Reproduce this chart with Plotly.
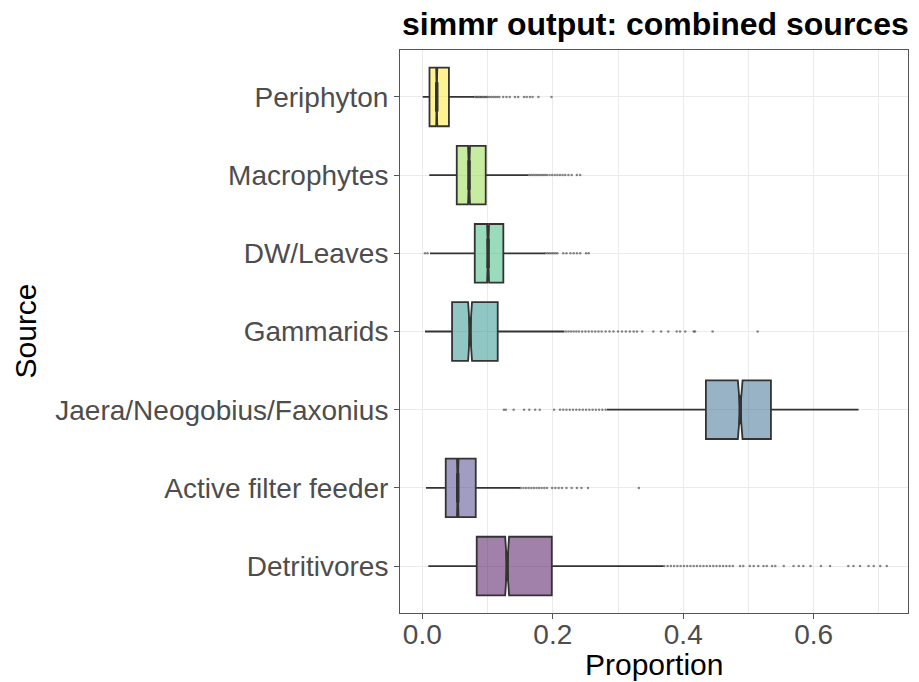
import plotly.graph_objects as go

sources = ["Periphyton", "Macrophytes", "DW/Leaves", "Gammarids",
           "Jaera/Neogobius/Faxonius", "Active filter feeder", "Detritivores"]

lower_whisker = [0.0006, 0.0107, 0.0118, 0.0041, 0.2830, 0.0057, 0.0092]
q1_vals       = [0.0110, 0.0528, 0.0804, 0.0456, 0.4347, 0.0359, 0.0834]
median_vals   = [0.0221, 0.0716, 0.1008, 0.0732, 0.4873, 0.0543, 0.1300]
q3_vals       = [0.0408, 0.0972, 0.1242, 0.1156, 0.5344, 0.0819, 0.1985]
upper_whisker = [0.0793, 0.1626, 0.1880, 0.2178, 0.6687, 0.1498, 0.3696]
notch_half    = [0.0008, 0.0015, 0.0015, 0.0030, 0.0036, 0.0012, 0.0030]

colors = ["#FDE725", "#8FD744", "#35B779", "#21908C", "#31688E", "#443A83", "#440154"]

outliers_periphyton = [0.080, 0.082, 0.084, 0.086, 0.088, 0.090, 0.092, 0.094, 0.096, 0.098,
                       0.100, 0.103, 0.106, 0.109, 0.112, 0.115, 0.118, 0.124, 0.129, 0.134,
                       0.142, 0.147, 0.156, 0.160, 0.165, 0.169, 0.178, 0.198]
outliers_macrophytes = [0.164, 0.167, 0.170, 0.173, 0.176, 0.179, 0.182, 0.185, 0.188, 0.191,
                        0.195, 0.199, 0.203, 0.207, 0.211, 0.215, 0.219, 0.224, 0.229, 0.237, 0.242]
outliers_dwleaves = [0.004, 0.008, 0.189, 0.192, 0.195, 0.198, 0.201, 0.204, 0.207, 0.216,
                     0.221, 0.227, 0.232, 0.237, 0.242, 0.251, 0.255]
outliers_gammarids = [0.220, 0.224, 0.228, 0.232, 0.236, 0.240, 0.245, 0.250, 0.255, 0.260,
                      0.265, 0.270, 0.275, 0.281, 0.287, 0.293, 0.300, 0.306, 0.312, 0.318,
                      0.324, 0.329, 0.337, 0.354, 0.366, 0.377, 0.390, 0.395, 0.403, 0.416,
                      0.418, 0.445, 0.514]
outliers_jaera = [0.125, 0.128, 0.140, 0.156, 0.164, 0.173, 0.180, 0.202, 0.211, 0.216,
                  0.221, 0.226, 0.231, 0.236, 0.241, 0.246, 0.251, 0.256, 0.261, 0.266,
                  0.271, 0.276, 0.281]
outliers_active = [0.151, 0.155, 0.159, 0.163, 0.167, 0.171, 0.175, 0.179, 0.183, 0.187,
                   0.191, 0.199, 0.204, 0.209, 0.214, 0.221, 0.229, 0.237, 0.244, 0.254, 0.332]
outliers_detritivores = [0.371, 0.376, 0.381, 0.386, 0.391, 0.396, 0.401, 0.406, 0.411, 0.416,
                         0.421, 0.426, 0.431, 0.436, 0.441, 0.446, 0.451, 0.456, 0.461, 0.466,
                         0.471, 0.476, 0.487, 0.492, 0.502, 0.508, 0.515, 0.523, 0.528, 0.536,
                         0.541, 0.554, 0.569, 0.577, 0.584, 0.595, 0.611, 0.625, 0.653, 0.661,
                         0.671, 0.684, 0.692, 0.702, 0.712]

outlier_lists = [outliers_periphyton, outliers_macrophytes, outliers_dwleaves, outliers_gammarids,
                 outliers_jaera, outliers_active, outliers_detritivores]

def hex_to_rgba(h, a):
    h = h.lstrip("#")
    return "rgba(%d,%d,%d,%s)" % (int(h[0:2], 16), int(h[2:4], 16), int(h[4:6], 16), a)

fig = go.Figure()
BOX_W = 0.75
for i, s in enumerate(sources):
    fig.add_trace(go.Box(
        y=[s], q1=[q1_vals[i]], median=[median_vals[i]], q3=[q3_vals[i]],
        lowerfence=[lower_whisker[i]], upperfence=[upper_whisker[i]],
        notchspan=[notch_half[i]], notched=True, notchwidth=0.5,
        orientation="h", fillcolor=hex_to_rgba(colors[i], 0.5),
        line=dict(color="#333333", width=1.8), whiskerwidth=0, width=BOX_W,
        boxpoints=False, showlegend=False, hoverinfo="x+y"))

ox, oy = [], []
for s, lst in zip(sources, outlier_lists):
    ox.extend(lst)
    oy.extend([s] * len(lst))
fig.add_trace(go.Scatter(x=ox, y=oy, mode="markers", showlegend=False,
                         marker=dict(size=2.5, color="rgba(40,40,40,0.55)", line=dict(width=0))))

# thick median segments (ggplot fatten)
for i, m in enumerate(median_vals):
    fig.add_shape(type="line", xref="x", yref="y", x0=m, x1=m,
                  y0=i - BOX_W / 4, y1=i + BOX_W / 4,
                  line=dict(color="#333333", width=3.5))

FONT = "Liberation Sans, Arial, sans-serif"
fig.update_layout(
    width=919, height=682,
    margin=dict(l=400, r=11, t=50, b=69),
    paper_bgcolor="white", plot_bgcolor="white",
    font=dict(family=FONT),
    xaxis=dict(range=[-0.0342, 0.7445], tickvals=[0, 0.2, 0.4, 0.6],
               ticktext=["0.0", "0.2", "0.4", "0.6"],
               showgrid=True, gridcolor="#EBEBEB", gridwidth=1.3,
               minor=dict(tickvals=[0.1, 0.3, 0.5, 0.7], showgrid=True,
                          gridcolor="#EBEBEB", gridwidth=0.8, ticks=""),
               ticks="outside", ticklen=5, tickcolor="#555555", tickwidth=1,
               ticklabelstandoff=-9,
               tickfont=dict(size=28, color="#4D4D4D", family=FONT),
               showline=True, mirror=True, linecolor="#555555", linewidth=1,
               zeroline=False),
    yaxis=dict(type="category", categoryorder="array", categoryarray=sources,
               range=[6.6, -0.6],
               showgrid=True, gridcolor="#EBEBEB", gridwidth=1.3,
               ticks="outside", ticklen=5, tickcolor="#555555", tickwidth=1,
               tickfont=dict(size=28, color="#4D4D4D", family=FONT),
               showline=True, mirror=True, linecolor="#555555", linewidth=1,
               zeroline=False),
    annotations=[
        dict(text="<b>simmr output: combined sources</b>", xref="paper", yref="paper",
             x=0, y=(613 - 24) / 563, xanchor="left", yanchor="middle", showarrow=False,
             font=dict(size=32, color="black", family=FONT)),
        dict(text="Proportion", xref="paper", yref="paper",
             x=0.5, y=(613 - 664) / 563, xanchor="center", yanchor="middle", showarrow=False,
             font=dict(size=30, color="black", family=FONT)),
        dict(text="Source", xref="paper", yref="paper", textangle=-90,
             x=(25 - 400) / 508, y=0.5, xanchor="center", yanchor="middle", showarrow=False,
             font=dict(size=30, color="black", family=FONT)),
    ],
)

fig.write_html("out.html", config={"displayModeBar": False},
               post_script="document.body.style.margin='0';")
